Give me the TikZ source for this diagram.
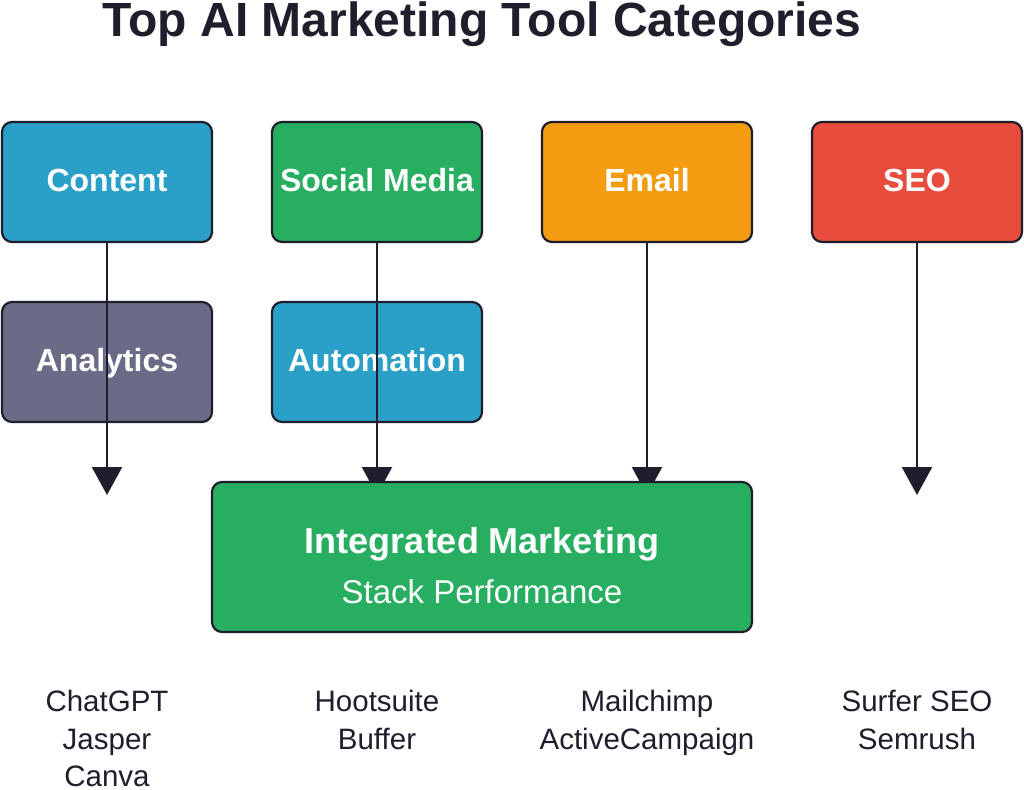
\documentclass[tikz,border=0pt]{standalone}
\usepackage{fontspec}
\setmainfont{Liberation Sans}
\usetikzlibrary{arrows.meta}
\definecolor{ink}{HTML}{1E1E2C}
\definecolor{cblue}{HTML}{2A9FC7}
\definecolor{cgreen}{HTML}{27AE60}
\definecolor{corange}{HTML}{F39C12}
\definecolor{cred}{HTML}{E74C3C}
\definecolor{cgrey}{HTML}{6A6C87}
\tikzset{
  catbox/.style={draw=ink, line width=2.2pt, rounded corners=10pt, minimum width=210pt, minimum height=120pt, inner sep=0pt,
    text=white, font=\fontsize{32}{38}\selectfont\bfseries, text height=19pt, text depth=0pt},
  flow/.style={draw=ink, line width=2.2pt, -{Triangle[width=30pt,length=28pt]}},
  tools/.style={anchor=north, align=center, inner sep=0pt, text=ink, font=\fontsize{29.5}{37.5}\selectfont}
}
\begin{document}
\begin{tikzpicture}[x=1pt,y=-1pt]
\useasboundingbox (0,0) rectangle (1024,789);
\fill[white] (0,0) rectangle (1024,789);
\node[anchor=base, text=ink, font=\fontsize{48}{54}\selectfont\bfseries, inner sep=0pt] (title) at (482,37) {Top AI Marketing Tool Categories};
% top row
\node[catbox, fill=cblue] (content) at (107,182) {Content};
\node[catbox, fill=cgreen] (social) at (377,182) {Social Media};
\node[catbox, fill=corange] (email) at (647,182) {Email};
\node[catbox, fill=cred] (seo) at (917,182) {SEO};
% second row
\node[catbox, fill=cgrey] (analytics) at (107,362) {Analytics};
\node[catbox, fill=cblue] (automation) at (377,362) {Automation};
% arrow ends
\coordinate (e1) at (107,495);
\coordinate (e2) at (377,495);
\coordinate (e3) at (647,495);
\coordinate (e4) at (917,495);
\draw[flow] (content.south) -- (e1);
\draw[flow] (social.south) -- (e2);
\draw[flow] (email.south) -- (e3);
\draw[flow] (seo.south) -- (e4);
% integrated box
\node[draw=ink, line width=2.2pt, rounded corners=10pt, fill=cgreen, minimum width=540pt, minimum height=150pt, inner sep=0pt] (integ) at (482,557) {};
\node[text=white, font=\fontsize{36}{42}\selectfont\bfseries, inner sep=0pt, anchor=base] (integt) at (482,553) {Integrated Marketing};
\node[text=white, font=\fontsize{33}{39}\selectfont, inner sep=0pt, anchor=base] (integs) at (482,603) {Stack Performance};
% tools
\node[tools] (t1) at (107,690) {ChatGPT\\Jasper\\Canva};
\node[tools] (t2) at (377,690) {Hootsuite\\Buffer};
\node[tools] (t3) at (647,690) {Mailchimp\\ActiveCampaign};
\node[tools] (t4) at (917,690) {Surfer SEO\\Semrush};
\end{tikzpicture}
\end{document}
